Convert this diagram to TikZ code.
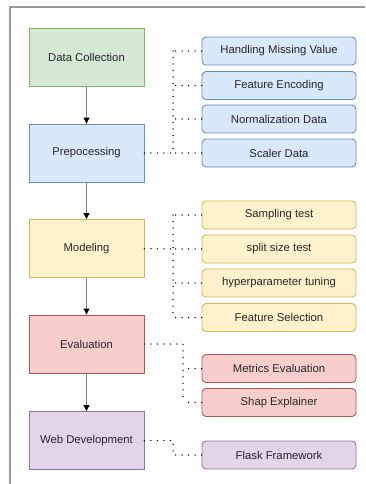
\documentclass[tikz,border=0pt]{standalone}
\usepackage{fontspec}
\setmainfont{Liberation Sans}
\usetikzlibrary{arrows.meta}
\definecolor{gF}{HTML}{D5E8D4}\definecolor{gS}{HTML}{82B366}
\definecolor{bF}{HTML}{DAE8FC}\definecolor{bS}{HTML}{6C8EBF}
\definecolor{yF}{HTML}{FFF2CC}\definecolor{yS}{HTML}{D6B656}
\definecolor{rF}{HTML}{F8CECC}\definecolor{rS}{HTML}{B85450}
\definecolor{pF}{HTML}{E1D5E7}\definecolor{pS}{HTML}{9673A6}
\definecolor{frameC}{HTML}{999999}
\definecolor{arrC}{HTML}{808080}
\begin{document}
\begin{tikzpicture}[x=1pt,y=-1pt,
  every node/.style={font=\fontsize{11.3}{13}\selectfont, text=black!85},
  mainbox/.style={draw=#1S, fill=#1F, line width=0.9pt, minimum width=115pt, minimum height=58pt, inner sep=0pt},
  subbox/.style={draw=#1S, fill=#1F, line width=0.9pt, rounded corners=4pt, minimum width=154pt, minimum height=28pt, inner sep=0pt},
  flow/.style={draw=arrC, line width=1pt, -{Triangle[black,length=6pt,width=6pt]}},
  dots/.style={draw=black, line width=1.5pt, dash pattern=on 0pt off 6.5pt, line cap=round}]
\useasboundingbox (0,0) rectangle (365,484);
\fill[white] (0,0) rectangle (365,484);
\draw[frameC, line width=1.3pt] (10,484) -- (10,7) -- (365,7);
% main boxes
\node[mainbox=g] (dc) at (86.5,57) {Data Collection};
\node[mainbox=b] (pp) at (86.5,153) {Prepocessing};
\node[mainbox=y] (md) at (86.5,248.5) {Modeling};
\node[mainbox=r] (ev) at (86.5,344) {Evaluation};
\node[mainbox=p] (wd) at (86.5,440.5) {Web Development};
\draw[flow] (dc) -- (pp);
\draw[flow] (pp) -- (md);
\draw[flow] (md) -- (ev);
\draw[flow] (ev) -- (wd);
% sub boxes
\node[subbox=b] (b1) at (279,51) {Handling Missing Value};
\node[subbox=b] (b2) at (279,85.5) {Feature Encoding};
\node[subbox=b] (b3) at (279,119) {Normalization Data};
\node[subbox=b] (b4) at (279,153) {Scaler Data};
\node[subbox=y] (y1) at (279,215) {Sampling test};
\node[subbox=y] (y2) at (279,249) {split size test};
\node[subbox=y] (y3) at (279,283) {hyperparameter tuning};
\node[subbox=y] (y4) at (279,317.5) {Feature Selection};
\node[subbox=r] (r1) at (279,368.5) {Metrics Evaluation};
\node[subbox=r] (r2) at (279,402.5) {Shap Explainer};
\node[subbox=p] (p1) at (279,455) {Flask Framework};
% dotted connectors: blue group
\coordinate (bt) at (173,153);
\draw[dots] (pp.east) -- (bt);
\draw[dots] (b1.west -| bt) -- (bt);
\foreach \n in {b1,b2,b3,b4} \draw[dots] (\n.west) -- (\n.west -| bt);
% yellow group
\coordinate (yt) at (173,249);
\draw[dots] (md.east) -- (yt);
\draw[dots] (y1.west -| yt) -- (y4.west -| yt);
\foreach \n in {y1,y2,y3,y4} \draw[dots] (\n.west) -- (\n.west -| yt);
% red group
\coordinate (rt) at (183,344);
\draw[dots] (ev.east) -- (rt) -- (r2.west -| rt);
\foreach \n in {r1,r2} \draw[dots] (\n.west) -- (\n.west -| rt);
% purple group
\coordinate (pt) at (173,440.5);
\draw[dots] (wd.east) -- (pt) -- (p1.west -| pt);
\draw[dots] (p1.west) -- (p1.west -| pt);
\end{tikzpicture}
\end{document}
